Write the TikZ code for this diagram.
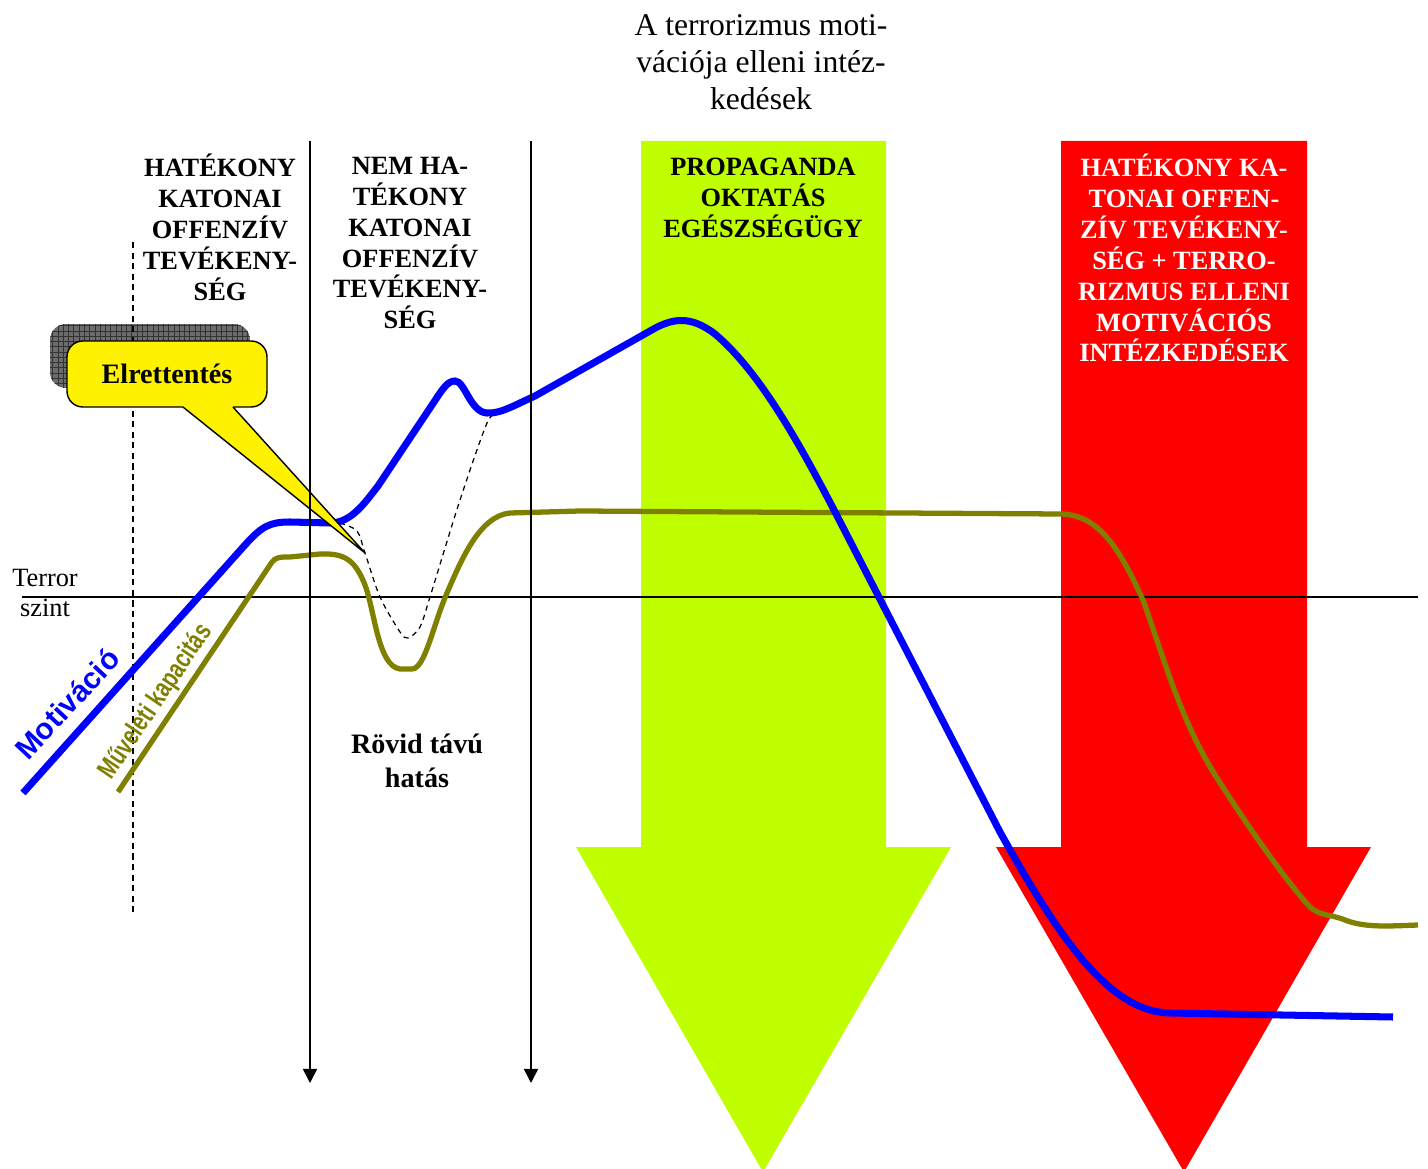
\documentclass[tikz,border=0pt]{standalone}
\usepackage{fontspec}
\setmainfont{Liberation Serif}
\newfontfamily\arialfont{Liberation Sans}
\usetikzlibrary{arrows.meta, patterns, calc}
\definecolor{limegr}{RGB}{191,255,0}
\definecolor{olivel}{RGB}{128,128,0}
\tikzset{
        head/.style={font=\bfseries\fontsize{15}{17.6}\selectfont, align=center, inner sep=0pt},
        vline/.style={line width=0.9pt, -{Triangle[width=8pt,length=8pt]}},
        motline/.style={line width=4pt, blue},
        kapline/.style={line width=3pt, olivel},
        callbox/.style={draw=black, line width=0.8pt, fill=yellow, rounded corners=9pt, minimum width=4cm, minimum height=1.32cm, inner sep=0pt, font=\bfseries\fontsize{16}{19}\selectfont},
        shadowbox/.style={fill=gray!85!black, rounded corners=9pt, minimum width=4cm, minimum height=1.28cm, postaction={pattern=grid, pattern color=black!80}},
}

\begin{document}
\begin{tikzpicture}[x=0.02cm, y=-0.02cm]
        \useasboundingbox (0,0) rectangle (1428,1169);

        \fill[limegr] (641,141) -- (886,141) -- (886,847) -- (951,847) -- (763,1172) -- (576,847) -- (641,847) -- cycle;
        \fill[red] (1061,141) -- (1307,141) -- (1307,847) -- (1371,847) -- (1184,1172) -- (996,847) -- (1061,847) -- cycle;

        \node[align=center, inner sep=0pt, font=\fontsize{18}{21}\selectfont] (cim) at (761,62) {A terrorizmus moti-\\vációja elleni intéz-\\kedések};
        \node[head] (hatekony) at (220,227) {HATÉKONY\\KATONAI\\OFFENZÍV\\TEVÉKENY-\\SÉG};
        \node[head] (nemhatekony) at (410,243) {NEM HA-\\TÉKONY\\KATONAI\\OFFENZÍV\\TEVÉKENY-\\SÉG};
        \node[head] (propaganda) at (763,198) {PROPAGANDA\\OKTATÁS\\EGÉSZSÉGÜGY};
        \node[head, text=white] (offenziv) at (1184,258) {HATÉKONY KA-\\TONAI OFFEN-\\ZÍV TEVÉKENY-\\SÉG + TERRO-\\RIZMUS ELLENI\\MOTIVÁCIÓS\\INTÉZKEDÉSEK};
        \node[head, font=\bfseries\fontsize{16}{19.3}\selectfont] (rovid) at (417,761) {Rövid távú\\hatás};
        \node[align=center, inner sep=0pt, font=\fontsize{15}{17}\selectfont] (terror) at (45,593) {Terror\\szint};

        \coordinate (szintbal) at (22,597);
        \coordinate (szintjobb) at (1418,597);
        \draw[line width=0.8pt] (szintbal) -- (szintjobb);

        \node[shadowbox] (arnyek) at (150,356) {};
        \coordinate (szagfel) at (133,242);
        \coordinate (szagle) at (133,915);
        \draw[line width=0.8pt, dash pattern=on 3.5pt off 2.5pt] (szagfel) -- (szagle);

        \draw[line width=0.7pt, dash pattern=on 3pt off 2.5pt] plot[smooth, tension=0.5] coordinates {(340,523) (357,531) (365,553) (380,597) (400,632) (408,638) (420,627) (430,597) (460,500) (487,423) (497,415)};

        \draw[kapline] (118,792) -- (272,562) .. controls (276,557) and (280,557) .. (290,557) -- (320,554)
                .. controls (345,553) and (355,560) .. (365,585) .. controls (375,612) and (378,666) .. (400,669) -- (412,669)
                .. controls (425,669) and (433,625) .. (447,593) .. controls (462,558) and (480,516) .. (510,513) -- (580,511) -- (1061,514)
                .. controls (1100,515) and (1120,550) .. (1143,600) .. controls (1163,655) and (1180,720) .. (1217,778)
                .. controls (1245,822) and (1285,880) .. (1310,907) .. controls (1320,916) and (1330,914) .. (1345,920)
                .. controls (1365,928) and (1390,926) .. (1418,925);
        \draw[motline] (23,793) -- (245,545) .. controls (262,526) and (270,522) .. (290,522) -- (330,523)
                .. controls (352,523) and (366,501) .. (378,486) -- (432,405) .. controls (442,390) and (447,381) .. (455,381)
                .. controls (465,381) and (470,412) .. (487,413) .. controls (500,414) and (515,405) .. (535,396) -- (650,331)
                .. controls (672,318) and (690,315) .. (715,334) .. controls (760,372) and (800,445) .. (833,508) -- (1000,832)
                .. controls (1060,940) and (1110,1012) .. (1170,1013) -- (1393,1017);

        \node[rotate=47, anchor=base, text=blue, font=\arialfont\bfseries\fontsize{17}{17}\selectfont] (motivacio) at (75,711) {Motiváció};
        \node[rotate=56, anchor=base, text=olivel, font=\arialfont\bfseries\fontsize{15.5}{15.5}\selectfont] (kapacitas) at (162,706) {\scalebox{0.75}[1]{Műveleti kapacitás}};

        \node[callbox] (elrettentes) at (167,374) {Elrettentés};
        \coordinate (csucs) at (365,553);
        \coordinate (talp1) at (183,407);
        \coordinate (talp2) at (233,407);
        \fill[yellow] ($(talp1)+(0,-3)$) -- (talp1) -- (csucs) -- (talp2) -- ($(talp2)+(0,-3)$) -- cycle;
        \draw[line width=0.8pt] (talp1) -- (csucs) -- (talp2);

        \coordinate (hatar1) at (310,141);
        \coordinate (hatar1le) at (310,1083);
        \coordinate (hatar2) at (531,141);
        \coordinate (hatar2le) at (531,1083);
        \draw[vline] (hatar1) -- (hatar1le);
        \draw[vline] (hatar2) -- (hatar2le);
\end{tikzpicture}
\end{document}
